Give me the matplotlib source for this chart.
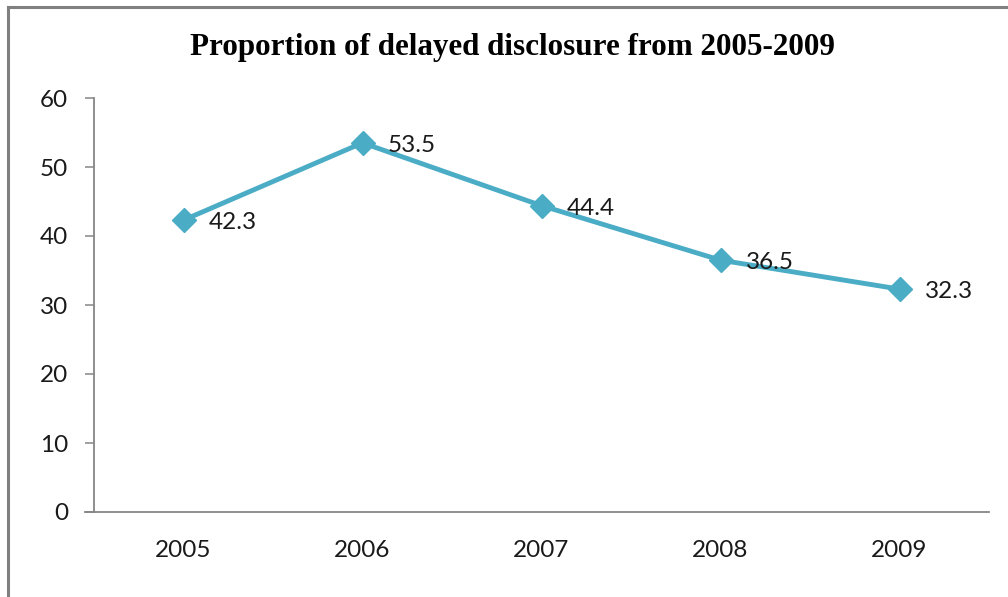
import matplotlib
matplotlib.use("Agg")
import matplotlib.pyplot as plt
from matplotlib.lines import Line2D

years = ["2005", "2006", "2007", "2008", "2009"]
delayed_pct = [42.3, 53.5, 44.4, 36.5, 32.3]
y_ticks = [0, 10, 20, 30, 40, 50, 60]

title = "Proportion of delayed disclosure from 2005-2009"
line_color = "#4BACC6"
axis_color = "#868686"
label_font = ["Lato", "DejaVu Sans"]
label_size = 17.5

W, H, DPI = 1008, 597, 100
fig = plt.figure(figsize=(W / DPI, H / DPI), dpi=DPI)
fig.patch.set_facecolor("white")

ax = fig.add_axes([94 / W, 1 - 512 / H, (989 - 94) / W, (512 - 98) / H])
x = list(range(len(years)))
ax.plot(x, delayed_pct, color=line_color, linewidth=3.5, marker="D",
        markersize=12, markerfacecolor=line_color, markeredgecolor=line_color,
        solid_joinstyle="miter", zorder=3)

for xi, v in zip(x, delayed_pct):
    ax.annotate(f"{v:.1f}", (xi, v), xytext=(18, -2), textcoords="offset points",
                ha="left", va="center", fontsize=label_size, family=label_font,
                color="#1a1a1a", zorder=4)

ax.set_xlim(-0.5, len(years) - 0.5)
ax.set_ylim(0, 60)
ax.set_xticks(x)
ax.set_xticklabels(years)
ax.set_yticks(y_ticks)
ax.set_yticklabels([str(t) for t in y_ticks])

for side in ("top", "right"):
    ax.spines[side].set_visible(False)
for side in ("left", "bottom"):
    ax.spines[side].set_color(axis_color)
    ax.spines[side].set_linewidth(1.3)

ax.tick_params(axis="y", direction="out", length=6.5, width=1.1, color=axis_color,
               pad=12, labelsize=label_size, labelcolor="#1a1a1a")
ax.tick_params(axis="x", length=0, pad=20, labelsize=label_size, labelcolor="#1a1a1a")
for lab in ax.get_xticklabels() + ax.get_yticklabels():
    lab.set_family(label_font)

# Extend the baseline to the left like an outward tick at zero
ax.plot([-0.5 - 9 / 179, -0.5], [0, 0], color=axis_color, lw=1.3,
        clip_on=False, zorder=2)

fig.text(512 / W, 1 - 47 / H, title, ha="center", va="center",
         fontsize=22.4, fontweight="bold", family=["Liberation Serif", "DejaVu Serif"])

# Chart frame (left and top edges)
fig.add_artist(Line2D([8 / W, 8 / W], [0, 1 - 7 / H], transform=fig.transFigure,
                      color="#808080", lw=2.2))
fig.add_artist(Line2D([8 / W, 1], [1 - 7 / H, 1 - 7 / H], transform=fig.transFigure,
                      color="#808080", lw=2.2))

fig.savefig("out.png", dpi=DPI)
